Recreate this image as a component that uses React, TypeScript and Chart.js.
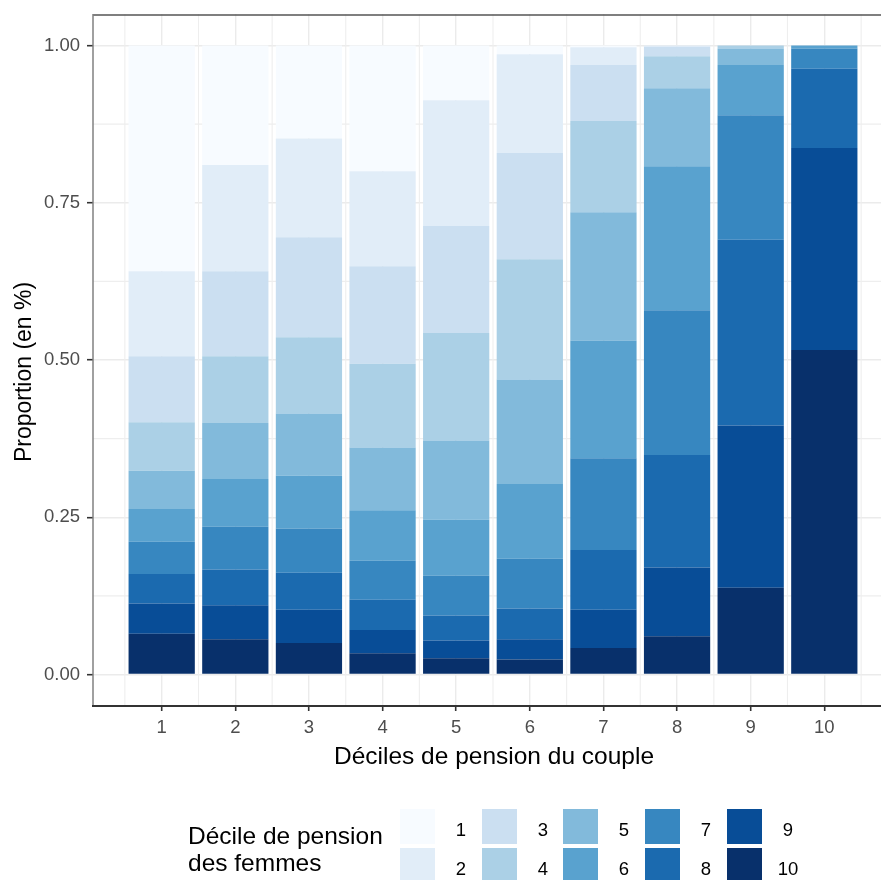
import React, { useEffect, useRef } from "react";
import { Chart, registerables } from "chart.js";

Chart.register(...registerables);

// Couple pension deciles (x axis)
const COUPLE_DECILES = [1, 2, 3, 4, 5, 6, 7, 8, 9, 10];
const X_TICKS = [1, 2, 3, 4, 5, 6, 7, 8, 9, 10];
const X_MINOR = [0.5, 1.5, 2.5, 3.5, 4.5, 5.5, 6.5, 7.5, 8.5, 9.5, 10.5];
const Y_TICKS = [0, 0.25, 0.5, 0.75, 1];
const Y_MINOR = [0.125, 0.375, 0.625, 0.875];

// Women's pension deciles (stack segments)
const WOMEN_DECILES = ["1", "2", "3", "4", "5", "6", "7", "8", "9", "10"];

// Share of each women's decile within each couple decile
const D1 = [0.359, 0.19, 0.148, 0.2, 0.087, 0.014, 0.003, 0.0, 0.0, 0.0];
const D2 = [0.135, 0.169, 0.157, 0.151, 0.2, 0.157, 0.028, 0.002, 0.0, 0.0];
const D3 = [0.105, 0.135, 0.159, 0.155, 0.17, 0.169, 0.089, 0.015, 0.0, 0.0];
const D4 = [0.077, 0.106, 0.121, 0.133, 0.171, 0.191, 0.145, 0.051, 0.005, 0.0];
const D5 = [0.061, 0.089, 0.099, 0.1, 0.126, 0.166, 0.204, 0.124, 0.026, 0.0];
const D6 = [0.052, 0.076, 0.084, 0.08, 0.089, 0.119, 0.187, 0.229, 0.08, 0.005];
const D7 = [0.051, 0.068, 0.07, 0.062, 0.063, 0.079, 0.146, 0.23, 0.198, 0.032];
const D8 = [0.047, 0.057, 0.059, 0.048, 0.04, 0.049, 0.095, 0.179, 0.295, 0.126];
const D9 = [0.048, 0.054, 0.053, 0.037, 0.028, 0.032, 0.061, 0.109, 0.258, 0.321];
const D10 = [0.065, 0.056, 0.05, 0.034, 0.026, 0.024, 0.042, 0.061, 0.138, 0.516];

const SERIES = [D1, D2, D3, D4, D5, D6, D7, D8, D9, D10];

const COLORS = [
  "#F7FBFF",
  "#E1EDF8",
  "#CBDFF1",
  "#ABD0E6",
  "#82BADB",
  "#59A2CF",
  "#3787C0",
  "#1B6AAF",
  "#084D97",
  "#08306B",
];

const FONT = '"Liberation Sans", Arial, sans-serif';

export default function App() {
  const ref = useRef<HTMLCanvasElement | null>(null);

  useEffect(() => {
    const canvas = ref.current;
    if (!canvas) return;

    const datasets = [] as any[];
    for (let i = SERIES.length - 1; i >= 0; i--) {
      datasets.push({
        label: WOMEN_DECILES[i],
        data: COUPLE_DECILES.map((x, j) => ({ x, y: SERIES[i][j] })),
        backgroundColor: COLORS[i],
        borderWidth: 0,
        barPercentage: 0.9,
        categoryPercentage: 1,
      });
    }

    const decor = {
      id: "decor",
      beforeDraw(chart: any) {
        const ctx = chart.ctx;
        ctx.save();
        ctx.fillStyle = "#ffffff";
        ctx.fillRect(0, 0, chart.width, chart.height);
        ctx.restore();
      },
      beforeDatasetsDraw(chart: any) {
        const ctx = chart.ctx;
        const { left, right, top, bottom } = chart.chartArea;
        const xs = chart.scales.x;
        const ys = chart.scales.y;
        ctx.save();
        ctx.strokeStyle = "#eeeeee";
        ctx.lineWidth = 1.1;
        X_MINOR.forEach((v) => {
          const px = xs.getPixelForValue(v);
          if (px < left || px > right) return;
          ctx.beginPath();
          ctx.moveTo(px, top);
          ctx.lineTo(px, bottom);
          ctx.stroke();
        });
        Y_MINOR.forEach((v) => {
          const py = ys.getPixelForValue(v);
          ctx.beginPath();
          ctx.moveTo(left, py);
          ctx.lineTo(right, py);
          ctx.stroke();
        });
        ctx.restore();
      },
      afterDraw(chart: any) {
        const ctx = chart.ctx;
        const { left, right, top, bottom } = chart.chartArea;
        ctx.save();
        // panel border / axis lines
        ctx.strokeStyle = "#555555";
        ctx.lineWidth = 1.5;
        ctx.beginPath();
        ctx.moveTo(left, top + 1);
        ctx.lineTo(right, top + 1);
        ctx.stroke();
        ctx.strokeStyle = "#808080";
        ctx.beginPath();
        ctx.moveTo(left, top);
        ctx.lineTo(left, bottom);
        ctx.stroke();
        ctx.strokeStyle = "#333333";
        ctx.lineWidth = 2;
        ctx.beginPath();
        ctx.moveTo(left - 1, bottom);
        ctx.lineTo(right, bottom);
        ctx.stroke();

        // axis titles
        ctx.fillStyle = "#000000";
        ctx.font = `24.5px ${FONT}`;
        ctx.textAlign = "center";
        ctx.textBaseline = "alphabetic";
        ctx.fillText("Déciles de pension du couple", 494, 764);

        ctx.font = `23px ${FONT}`;
        ctx.save();
        ctx.translate(31, 372);
        ctx.rotate(-Math.PI / 2);
        ctx.fillText("Proportion (en %)", 0, 0);
        ctx.restore();

        // legend
        ctx.font = `24.5px ${FONT}`;
        ctx.textAlign = "left";
        ctx.fillText("Décile de pension", 188, 844);
        ctx.fillText("des femmes", 188, 871);

        const keyW = 35;
        const keyH = 35;
        const colX = [400, 482, 563, 645, 727];
        const rowY = [809, 848];
        ctx.font = `18.5px ${FONT}`;
        ctx.textAlign = "center";
        WOMEN_DECILES.forEach((lab, i) => {
          const c = Math.floor(i / 2);
          const r = i % 2;
          const x = colX[c];
          const y = rowY[r];
          ctx.fillStyle = COLORS[i];
          ctx.fillRect(x, y, keyW, keyH);
          ctx.fillStyle = "#000000";
          ctx.fillText(lab, x + 61, r === 0 ? 836 : 875);
        });
        ctx.restore();
      },
    };

    const chart = new Chart(canvas, {
      type: "bar",
      data: { datasets },
      plugins: [decor],
      options: {
        animation: false,
        responsive: false,
        devicePixelRatio: 1,
        layout: { padding: { top: 14, left: 0, right: 0, bottom: 0 } },
        plugins: {
          legend: { display: false },
          tooltip: { enabled: false },
          title: { display: false },
        },
        scales: {
          x: {
            type: "linear",
            stacked: true,
            offset: false,
            min: 0.067,
            max: 10.77,
            afterBuildTicks: (s: any) => {
              s.ticks = X_TICKS.map((v) => ({ value: v }));
            },
            afterFit: (s: any) => {
              s.height = 174;
              s.paddingLeft = 0;
              s.paddingRight = 0;
            },
            grid: {
              offset: false,
              color: "#ebebeb",
              lineWidth: 1.4,
              tickColor: "#333333",
              tickLength: 5,
              tickWidth: 1.6,
              drawOnChartArea: true,
            },
            border: { display: false },
            ticks: {
              autoSkip: false,
              maxRotation: 0,
              padding: 6,
              color: "#4d4d4d",
              font: { family: FONT, size: 18.5 },
              callback: (v: any) => String(v),
            },
          },
          y: {
            type: "linear",
            stacked: true,
            min: -0.05,
            max: 1.05,
            afterBuildTicks: (s: any) => {
              s.ticks = Y_TICKS.map((v) => ({ value: v }));
            },
            afterFit: (s: any) => {
              s.width = 93;
              s.paddingTop = 0;
              s.paddingBottom = 0;
            },
            grid: {
              color: "#ebebeb",
              lineWidth: 1.4,
              tickColor: "#333333",
              tickLength: 6,
              tickWidth: 1.6,
              drawOnChartArea: true,
            },
            border: { display: false },
            ticks: {
              padding: 7,
              color: "#4d4d4d",
              font: { family: FONT, size: 18.5 },
              callback: (v: any) => Number(v).toFixed(2),
            },
          },
        },
      },
    });

    return () => {
      chart.destroy();
    };
  }, []);

  return (
    <div style={{ position: "absolute", left: 0, top: 0, width: 881, height: 880, background: "#fff" }}>
      <canvas ref={ref} width={881} height={880} style={{ width: 881, height: 880, display: "block" }} />
    </div>
  );
}
